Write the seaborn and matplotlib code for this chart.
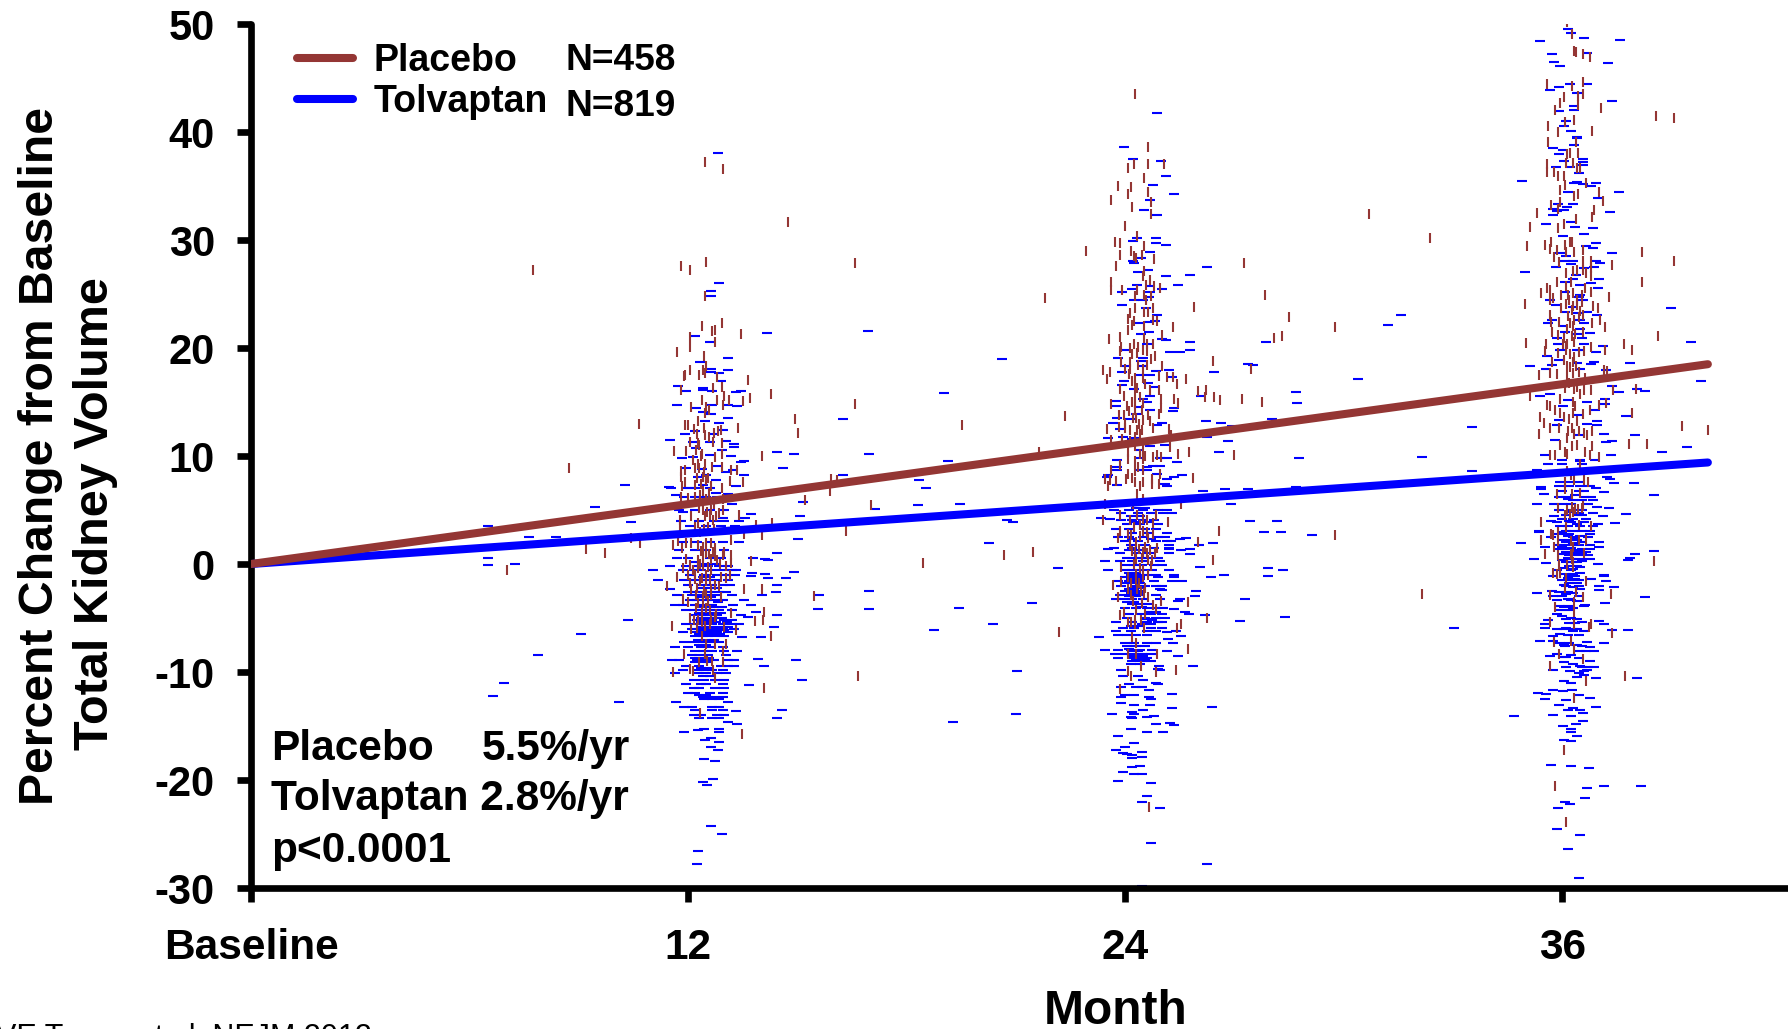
import pandas as pd
import matplotlib
matplotlib.use("Agg")
import matplotlib.pyplot as plt
import seaborn as sns

# Fitted slopes, month vs percent change
line_months = [0, 40]
placebo_line = [0, 18.5]
tolvaptan_line = [0, 9.4]

x_ticks = [0, 12, 24, 36]
x_labels = ["Baseline", "12", "24", "36"]
y_ticks = [-30, -20, -10, 0, 10, 20, 30, 40, 50]

# Individual patients, (month, percent change)
placebo_12 = [
    (12.46, 37.2), (12.95, 36.6), (14.74, 31.7), (7.73, 27.2), (11.8, 27.6), (12.05, 27.2), (12.49, 28.0), (16.58, 27.9),
    (12.46, 24.8), (12.38, 22.0), (12.92, 22.3), (12.65, 21.6), (12.73, 21.7), (13.45, 21.3), (12.05, 21.0), (12.05, 20.1),
    (12.73, 20.6), (11.69, 19.6), (12.43, 19.3), (12.49, 18.3), (12.4, 18.0), (12.05, 18.0), (11.91, 17.5), (11.88, 17.4),
    (12.29, 17.5), (12.46, 17.7), (12.79, 17.3), (13.64, 17.0), (12.92, 16.4), (12.68, 16.3), (11.8, 16.1), (12.98, 15.6),
    (12.38, 15.2), (12.79, 15.2), (13.12, 15.2), (14.27, 15.7), (13.69, 15.4), (13.5, 15.1), (12.95, 14.7), (12.07, 14.5),
    (12.49, 14.5), (12.58, 14.3), (12.46, 14.0), (16.58, 14.8), (14.93, 13.4), (10.65, 13.0), (11.91, 12.9), (12.0, 12.9),
    (12.27, 13.2), (12.16, 12.5), (12.43, 12.6), (13.36, 12.6), (12.9, 12.4), (12.82, 12.3), (12.7, 12.1), (15.01, 12.1),
    (12.46, 11.9), (12.58, 11.8), (12.05, 11.3), (12.27, 11.2), (12.69, 11.3), (12.92, 11.2), (11.61, 10.5), (11.94, 10.5),
    (12.23, 10.6), (12.38, 10.2), (12.92, 10.2), (14.02, 10.0), (12.14, 9.6), (12.27, 9.3), (12.46, 9.3), (12.73, 9.9),
    (8.74, 8.9), (11.8, 8.6), (11.91, 8.7), (12.2, 8.9), (12.3, 8.9), (12.66, 9.0), (12.92, 9.0), (13.17, 8.7),
    (13.34, 8.7), (11.8, 8.1), (12.41, 8.1), (12.5, 7.8), (13.14, 7.7), (13.5, 7.6), (11.91, 7.6), (11.82, 7.2),
    (12.92, 7.0), (15.92, 7.9), (15.9, 6.8), (16.08, 7.8), (11.8, 6.2), (12.0, 6.1), (12.18, 6.2), (12.32, 6.4),
    (12.5, 6.0), (12.7, 5.6), (12.95, 6.0), (11.77, 4.1), (11.77, 3.5), (12.09, 4.4), (12.27, 3.8), (12.46, 4.4),
    (12.64, 5.0), (12.69, 4.1), (12.96, 5.0), (13.39, 4.5), (17.02, 5.5), (15.22, 5.9), (13.86, 3.6), (14.3, 3.8),
    (13.53, 2.8), (14.02, 2.7), (16.33, 3.1), (9.19, 1.4), (9.71, 1.0), (10.43, 2.4), (10.67, 1.9), (7.03, -0.6),
    (11.58, 1.8), (11.72, 2.1), (11.82, 1.5), (11.95, 1.9), (12.07, 1.9), (12.27, 1.8), (12.41, 1.6), (12.5, 1.9),
    (12.64, 1.9), (12.73, 1.5), (13.0, 1.1), (13.19, 2.2), (12.96, 0.8), (13.17, 0.8), (13.72, 0.3), (11.95, 0.5),
    (12.27, 0.4), (12.41, 0.7), (12.64, 0.5), (12.73, 0.7), (12.05, -0.1), (12.27, -0.4), (11.86, -0.4), (12.14, -0.6),
    (12.41, -0.2), (12.64, -0.6), (13.05, -0.2), (13.19, 0.1), (12.0, -1.0), (12.18, -1.0), (12.5, -1.0), (12.9, -1.2),
    (13.05, -1.3), (13.14, -1.0), (11.69, -1.2), (12.05, -1.8), (12.32, -1.6), (12.5, -1.6), (11.41, -2.0), (12.07, -2.3),
    (12.25, -2.2), (12.44, -2.5), (12.64, -2.3), (12.73, -1.9), (12.84, -2.0), (13.53, -2.3), (14.02, -2.3), (12.23, -2.9),
    (11.85, -3.2), (12.9, -3.1), (12.64, -2.9), (15.45, -3.0), (12.0, -3.5), (12.27, -3.6), (12.41, -3.6), (12.48, -4.1),
    (13.17, -4.5), (14.08, -4.4), (12.23, -4.1), (12.78, -4.6), (12.05, -5.0), (12.16, -5.2), (12.27, -5.2), (12.73, -4.9),
    (13.83, -5.3), (14.05, -5.2), (11.55, -5.7), (12.07, -6.0), (12.46, -5.7), (12.6, -5.6), (13.0, -5.8), (12.25, -5.9),
    (13.31, -6.1), (12.38, -6.7), (14.27, -6.7), (12.49, -7.4), (12.73, -7.4), (13.03, -7.4), (12.95, -8.1), (12.46, -8.3),
    (11.88, -8.3), (12.29, -9.1), (12.51, -9.0), (12.65, -9.0), (12.95, -9.1), (12.05, -9.7), (12.13, -9.9), (11.58, -10.0),
    (12.69, -9.8), (12.73, -10.6), (16.66, -10.4), (14.08, -11.5), (12.32, -13.8), (13.47, -15.7),
]

# Brown clump in the middle of the month 12 column
placebo_12_core = [
    (12.25, 12.0), (12.3, 11.0), (12.35, 10.0), (12.25, 8.0), (12.35, 7.4), (12.45, 8.5), (12.55, 8.0), (12.62, 7.2),
    (12.2, 7.3), (12.42, 6.8), (12.58, 6.6), (12.3, 5.2), (12.4, 5.0), (12.52, 4.8), (12.6, 4.5), (12.78, 4.4),
    (12.85, 4.7), (12.18, 3.4), (12.32, 3.0), (12.44, 3.2), (12.55, 3.4), (12.72, 3.2), (12.36, 1.2), (12.48, 1.0),
    (12.58, 0.9), (12.68, 1.1), (12.8, 0.4), (12.88, 0.0), (12.34, 0.0), (12.54, -0.3), (12.2, -1.4), (12.38, -1.3),
    (12.6, -1.4), (12.42, -3.0), (12.5, -2.8), (12.56, -3.4), (12.38, -4.4), (12.6, -4.3), (12.62, -5.2), (12.38, -5.4),
]

tolvaptan_12 = [
    (12.81, 38.1), (12.84, 26.0), (12.62, 25.3), (12.62, 24.8), (12.19, 21.1), (14.16, 21.4), (16.93, 21.6), (12.59, 20.6),
    (13.09, 19.1), (12.32, 18.7), (12.62, 18.1), (13.09, 18.0), (12.62, 17.8), (12.84, 17.7), (12.9, 16.9), (11.72, 16.5),
    (11.95, 16.0), (12.4, 16.3), (12.42, 16.1), (12.65, 16.0), (13.31, 15.9), (13.44, 16.0), (11.69, 14.7), (12.23, 14.4),
    (12.65, 14.7), (13.1, 14.7), (13.35, 14.6), (12.64, 13.9), (12.4, 14.1), (13.09, 13.5), (12.46, 13.2), (12.84, 13.1),
    (16.25, 13.4), (12.18, 12.3), (12.96, 12.4), (11.92, 12.0), (12.68, 12.0), (11.5, 11.5), (12.14, 11.3), (12.6, 11.3),
    (13.05, 11.4), (13.25, 11.1), (12.92, 10.6), (13.25, 10.8), (12.23, 10.7), (14.43, 10.4), (14.9, 10.2), (16.96, 10.2),
    (12.14, 9.9), (11.83, 9.8), (13.19, 10.0), (12.6, 10.1), (13.53, 9.5), (13.46, 9.4), (14.6, 8.9), (11.95, 8.9),
    (12.37, 8.8), (12.82, 9.1), (13.05, 8.5), (13.24, 8.7), (13.53, 8.2), (12.5, 8.2), (12.27, 8.1), (12.78, 7.8),
    (16.25, 8.2), (10.26, 7.3), (11.48, 7.1), (11.52, 7.0), (13.31, 7.2), (12.05, 7.0), (12.41, 7.3), (13.1, 6.5),
    (11.68, 6.4), (12.78, 6.6), (9.44, 5.3), (15.15, 5.7), (13.2, 5.6), (15.07, 4.4), (13.74, 4.6), (17.14, 5.1),
    (11.85, 4.8), (13.56, 4.3), (12.95, 4.3), (6.5, 3.5), (7.63, 2.5), (8.37, 2.5), (10.43, 3.9), (15.01, 2.3),
    (6.5, 0.6), (6.5, -0.1), (7.24, 0.0), (11.03, -0.6), (11.17, -1.5), (11.5, -0.2), (11.5, -2.3), (14.43, 1.0),
    (13.78, 0.6), (14.1, 0.5), (14.19, 0.4), (13.31, -0.6), (13.76, -0.8), (13.74, -1.1), (14.11, -0.9), (14.2, -1.3),
    (14.7, -1.3), (14.9, -0.7), (14.43, -1.9), (14.41, -2.6), (14.02, -2.9), (13.53, -3.3), (13.74, -3.8), (13.86, -4.4),
    (13.46, -4.7), (13.65, -4.9), (14.43, -4.7), (14.35, -5.8), (13.99, -6.8), (13.49, -6.8), (13.92, -8.8), (14.96, -8.9),
    (14.08, -9.4), (15.12, -10.7), (13.67, -11.2), (15.59, -2.9), (15.56, -4.2), (16.96, -2.5), (16.96, -4.2), (10.34, -5.2),
    (9.05, -6.5), (7.87, -8.4), (6.94, -11.0), (6.64, -12.2), (10.1, -12.8), (11.66, -12.8), (14.57, -13.5), (14.43, -14.3),
    (13.31, -13.6), (13.1, -12.8), (13.35, -14.8), (11.88, -15.6), (12.43, -15.3), (12.27, -15.4), (12.84, -15.3), (12.84, -15.6),
    (12.46, -16.3), (12.64, -16.1), (12.84, -16.5), (12.62, -16.9), (12.81, -17.2), (12.43, -18.1), (12.73, -18.2), (12.68, -19.9),
    (12.4, -20.2), (12.51, -20.5), (12.62, -24.3), (12.92, -25.0), (12.27, -26.6), (12.24, -27.8),
    (12.0, 7.0), (12.3, 7.0), (12.6, 7.0), (11.9, 6.2), (12.2, 6.2), (12.5, 6.2), (12.8, 6.2), (11.75, 5.0),
    (12.2, 5.0), (12.6, 5.0), (13.0, 5.0), (11.8, 4.0), (12.3, 4.0), (12.7, 4.0), (13.0, 4.0), (13.4, 4.0),
    (12.05, 3.5), (12.5, 3.5), (12.9, 3.5), (13.3, 3.5), (11.85, 2.0), (12.25, 2.0), (12.6, 2.0), (12.95, 2.0),
    (13.4, 2.0), (11.75, 1.3), (12.2, 1.3), (12.5, 1.3), (13.0, 1.3), (11.7, 0.6), (12.0, 0.6), (12.6, 0.6),
    (12.9, 0.6), (11.95, -0.2), (12.3, -0.2), (12.55, -0.2), (12.85, -0.2), (13.1, -0.2), (11.85, -0.6), (12.15, -0.6),
    (12.35, -0.6), (12.7, -0.6), (13.0, -0.6), (13.2, -0.6), (12.05, -1.0), (12.45, -1.0), (12.8, -1.0), (13.05, -1.0),
    (13.3, -1.0), (11.9, -1.5), (12.2, -1.5), (12.5, -1.5), (12.75, -1.5), (13.1, -1.5), (12.0, -1.9), (12.35, -1.9),
    (12.65, -1.9), (12.95, -1.9), (13.15, -1.9), (12.0, -2.6), (12.2, -2.6), (12.4, -2.6), (12.6, -2.6), (12.85, -2.6),
    (13.05, -2.6), (11.7, -2.9), (12.1, -2.9), (12.3, -2.9), (12.55, -2.9), (12.8, -2.9), (13.2, -2.9), (12.05, -3.3),
    (12.25, -3.3), (12.5, -3.3), (12.75, -3.3), (12.95, -3.3), (11.65, -3.8), (11.85, -3.8), (12.2, -3.8), (12.45, -3.8),
    (12.65, -3.8), (13.24, -3.8), (11.95, -4.3), (12.15, -4.3), (12.4, -4.3), (12.6, -4.3), (12.85, -4.3), (13.2, -4.3),
    (12.2, -4.7), (12.4, -4.7), (12.6, -4.7), (12.8, -4.7), (12.25, -5.2), (12.45, -5.2), (12.65, -5.2), (13.0, -5.2),
    (13.2, -5.2), (11.95, -5.6), (12.2, -5.6), (12.4, -5.6), (12.65, -5.6), (12.95, -5.6), (13.2, -5.6), (13.4, -5.6),
    (12.1, -6.0), (12.3, -6.0), (12.5, -6.0), (12.7, -6.0), (12.95, -6.0), (13.25, -6.0), (11.85, -6.3), (12.2, -6.3),
    (12.4, -6.3), (12.6, -6.3), (12.8, -6.3), (13.1, -6.3), (12.2, -6.7), (12.4, -6.7), (12.55, -6.7), (12.75, -6.7),
    (13.0, -6.7), (11.9, -7.2), (12.15, -7.2), (12.4, -7.2), (12.6, -7.2), (12.85, -7.2), (11.65, -7.7), (12.0, -7.7),
    (12.35, -7.7), (12.6, -7.7), (12.95, -7.7), (12.2, -8.1), (12.4, -8.1), (12.65, -8.1), (13.0, -8.1), (13.35, -8.1),
    (12.1, -8.4), (12.3, -8.4), (12.55, -8.4), (13.05, -8.4), (11.55, -8.9), (11.75, -8.9), (12.25, -8.9), (12.45, -8.9),
    (12.7, -8.9), (13.1, -8.9), (13.25, -8.9), (11.95, -9.4), (12.3, -9.4), (12.9, -9.4), (13.1, -9.4), (13.25, -9.4),
    (11.85, -9.8), (12.25, -9.8), (12.45, -9.8), (12.65, -9.8), (12.95, -9.8), (11.65, -10.1), (12.3, -10.1), (12.5, -10.1),
    (12.8, -10.1), (13.05, -10.1), (12.15, -10.7), (12.45, -10.7), (12.75, -10.7), (13.0, -10.7), (11.95, -11.1), (12.35, -11.1),
    (12.5, -11.1), (12.95, -11.1), (12.15, -11.5), (12.3, -11.5), (12.75, -11.5), (13.0, -11.5), (12.0, -11.9), (12.2, -11.9),
    (12.6, -11.9), (12.95, -11.9), (12.4, -12.3), (12.55, -12.3), (12.75, -12.3), (12.95, -12.3), (12.45, -12.5), (12.65, -12.5),
    (12.85, -12.5), (11.9, -13.2), (12.1, -13.2), (12.65, -13.2), (12.85, -13.2), (12.2, -13.5), (12.65, -13.5), (12.95, -13.5),
    (12.15, -14.0), (12.35, -14.0), (12.8, -14.0), (13.0, -14.0), (12.3, -14.3), (12.65, -14.3), (12.85, -14.3), (13.1, -14.6),
]

# Solid blue part of the month 12 column
tolvaptan_12_core = [
    (12.35, -3.1), (12.62, -3.1), (12.82, -3.5), (12.32, -4.0), (12.52, -4.0), (12.72, -4.0), (12.92, -4.0), (12.3, -4.5),
    (12.5, -4.5), (12.7, -4.5), (12.9, -4.5), (12.35, -5.0), (12.55, -5.0), (12.75, -5.0), (12.92, -5.0), (12.35, -5.4),
    (12.55, -5.4), (12.78, -5.4), (13.08, -5.4), (12.38, -5.8), (12.58, -5.8), (12.82, -5.8), (13.1, -5.8), (12.4, -6.15),
    (12.6, -6.15), (12.8, -6.15), (12.98, -6.15), (12.3, -6.5), (12.5, -6.5), (12.68, -6.5), (12.88, -6.5), (12.28, -7.0),
    (12.5, -7.0), (12.7, -7.0), (12.3, -7.5), (12.5, -7.5), (12.2, -8.7), (12.4, -8.7), (12.58, -8.7), (12.2, -9.1),
    (12.4, -9.1), (12.55, -9.1), (12.35, -9.6), (12.55, -9.6), (12.4, -10.4), (12.6, -10.4), (12.3, -12.1), (12.5, -12.1),
    (12.5, 0.0), (12.7, 0.0), (12.2, 0.2), (12.4, -1.2), (12.6, -1.2), (12.4, -2.2), (12.6, -2.2), (12.8, -2.2),
]

placebo_24 = [
    (24.27, 43.5), (24.63, 38.6), (24.25, 37.0), (24.63, 37.0), (25.07, 37.0), (24.08, 36.7), (24.52, 35.7), (23.81, 35.0),
    (24.16, 34.9), (24.08, 34.3), (24.63, 34.4), (23.62, 33.7), (24.71, 33.5), (24.19, 33.1), (24.71, 32.4), (24.0, 31.3),
    (24.33, 30.4), (23.73, 29.8), (23.86, 29.7), (24.52, 29.4), (22.93, 29.0), (24.16, 29.0), (23.86, 28.6), (24.25, 28.5),
    (24.3, 28.3), (24.47, 28.6), (24.8, 28.2), (27.27, 27.9), (23.75, 27.6), (24.52, 27.1), (24.49, 26.7), (23.62, 26.1),
    (23.62, 25.4), (24.69, 26.3), (23.92, 25.4), (24.57, 25.8), (24.8, 25.7), (24.96, 25.6), (24.33, 25.4), (24.52, 24.9),
    (21.8, 24.6), (24.71, 24.8), (24.27, 24.8), (27.83, 24.9), (24.57, 24.4), (25.89, 23.8), (24.27, 23.7), (24.77, 23.7),
    (24.52, 23.3), (24.63, 23.3), (24.14, 23.2), (24.09, 22.7), (24.23, 22.5), (28.5, 22.9), (24.77, 22.6), (24.88, 22.5),
    (24.19, 22.1), (24.52, 22.0), (25.32, 21.9), (24.08, 21.7), (23.86, 21.0), (23.56, 20.8), (25.02, 21.2), (28.31, 21.1),
    (28.09, 20.9), (24.52, 20.9), (24.25, 20.4), (24.77, 20.4), (23.88, 20.1), (24.14, 20.0), (24.34, 20.1), (24.61, 20.4),
    (24.49, 19.8), (23.86, 19.7), (24.18, 19.4), (24.32, 19.5), (24.59, 19.7), (24.82, 19.3), (24.71, 19.0), (24.14, 18.7),
    (26.42, 18.8), (23.89, 18.7), (25.02, 18.3), (24.0, 18.1), (24.14, 18.1), (24.34, 18.4), (24.5, 18.1), (24.6, 18.4),
    (23.4, 18.0), (23.59, 17.8), (27.46, 18.1), (23.51, 17.1), (24.28, 17.2), (24.5, 17.2), (24.93, 17.4), (25.15, 17.3),
    (25.32, 17.3), (25.68, 17.1), (25.43, 16.7), (24.28, 16.6), (24.55, 16.7), (23.86, 16.2), (24.93, 16.1), (24.69, 16.1),
    (23.97, 15.6), (24.28, 15.8), (26.0, 16.0), (26.23, 16.1), (26.2, 15.5), (26.44, 15.5), (26.61, 15.2), (27.21, 15.3),
    (27.76, 15.0), (25.35, 15.3), (24.99, 15.3), (25.46, 14.9), (23.62, 14.8), (24.28, 14.9), (24.5, 14.9), (24.06, 14.6),
    (24.99, 14.4), (24.28, 14.3), (24.46, 14.3), (22.35, 13.7), (19.52, 12.9), (24.93, 13.9), (23.82, 13.8), (23.97, 13.8),
    (24.64, 13.8), (24.0, 13.0), (24.29, 13.5), (24.5, 13.3), (24.69, 13.2), (23.82, 12.7), (23.51, 12.5), (24.0, 12.6),
    (24.14, 12.4), (24.32, 12.4), (24.47, 12.4), (24.77, 12.6), (25.21, 12.5), (25.25, 11.9), (23.62, 11.5), (23.91, 11.6),
    (21.64, 10.4), (25.24, 10.8), (25.46, 10.2), (25.76, 10.4), (26.99, 10.1), (24.5, 10.6), (24.09, 10.4), (24.27, 10.9),
    (24.09, 9.7), (24.27, 9.5), (24.5, 9.7), (24.77, 9.9), (24.87, 10.1), (24.98, 9.9), (23.86, 9.2), (23.62, 8.7),
    (24.09, 8.3), (24.27, 8.6), (24.5, 8.7), (24.73, 7.9), (24.96, 8.3), (25.87, 8.0), (23.45, 7.9), (23.59, 7.8),
    (23.75, 7.7), (23.54, 7.2), (24.03, 7.9), (24.27, 7.6), (24.5, 7.6), (24.94, 7.4), (24.73, 7.4), (23.45, 5.6),
    (23.86, 4.5), (24.14, 4.1), (24.32, 4.5), (24.5, 4.2), (24.59, 4.1), (24.77, 3.8), (24.86, 4.5), (25.54, 5.6),
    (23.4, 4.1), (25.19, 3.9), (26.58, 3.1), (23.86, 3.1), (24.09, 2.8), (24.16, 2.7), (24.5, 3.1), (24.59, 3.0),
    (24.77, 2.8), (23.81, 2.4), (26.01, 2.0), (24.14, 1.8), (24.3, 2.0), (24.55, 1.6), (24.5, 1.1), (24.27, 1.1),
    (24.69, 1.3), (24.82, 1.0), (24.87, 1.5), (18.45, 0.1), (20.68, 0.8), (21.48, 1.1), (26.42, 0.4), (24.3, 0.5),
    (24.73, 0.4), (23.89, -0.3), (24.5, -0.6), (24.7, -0.2), (24.08, -1.2), (24.3, -0.9), (24.5, -1.2), (23.66, -1.9),
    (23.89, -1.7), (24.3, -1.5), (24.09, -2.3), (24.32, -2.3), (24.44, -2.5), (24.52, -2.7), (23.81, -3.1), (24.16, -2.9),
    (24.47, -3.6), (24.63, -3.1), (24.99, -3.4), (25.73, -3.5), (24.3, -4.3), (23.97, -4.4), (24.77, -3.8), (24.85, -4.2),
    (23.86, -4.7), (26.25, -5.0), (25.54, -5.6), (25.43, -5.9), (24.27, -5.2), (24.08, -5.4), (24.16, -5.4), (24.44, -5.2),
    (24.27, -5.6), (24.52, -5.9), (22.19, -6.3), (24.19, -6.8), (24.3, -7.3), (25.73, -7.9), (24.88, -8.3), (24.08, -8.3),
    (24.3, -8.3), (24.44, -9.4), (24.08, -9.9), (24.16, -10.4), (24.85, -10.0), (25.4, -9.8), (23.86, -11.6), (24.66, -22.5),
]

# Brown clump in the middle of the month 24 column
placebo_24_core = [
    (24.12, 17.6), (24.2, 16.9), (24.33, 16.3), (24.4, 15.5), (24.2, 15.0), (24.12, 14.2), (24.22, 13.5), (24.38, 13.0),
    (24.42, 12.0), (24.28, 11.8), (24.14, 11.4), (24.4, 10.2), (24.55, 10.0), (24.35, 9.0), (24.2, 8.0), (24.4, 7.2),
    (24.33, 6.5), (24.5, 6.0), (24.22, 5.6), (24.4, 3.6), (24.25, 3.4), (24.42, 2.6), (24.62, 2.4), (24.2, 1.2),
    (24.38, 1.4), (24.6, 1.0), (24.46, 0.6), (24.62, 0.4), (24.25, 0.0), (24.4, -0.4), (24.62, -1.0), (24.15, -1.8),
    (24.38, -1.8), (24.55, -2.2), (24.22, -3.4), (24.55, -4.6),
]

tolvaptan_24 = [
    (24.88, 41.8), (23.97, 38.6), (24.22, 37.5), (24.99, 37.3), (25.13, 35.9), (24.77, 35.1), (25.35, 34.3), (24.69, 33.7),
    (24.52, 32.8), (24.88, 32.3), (24.33, 30.2), (24.85, 30.2), (24.22, 29.9), (24.85, 29.7), (25.13, 29.5), (24.69, 28.9),
    (24.44, 28.3), (24.22, 28.1), (24.25, 27.9), (26.25, 27.5), (24.63, 27.2), (24.36, 27.0), (25.78, 26.8), (25.13, 26.7),
    (25.46, 25.8), (24.33, 25.8), (24.69, 25.7), (24.19, 25.5), (25.02, 25.5), (23.92, 25.2), (24.69, 25.2), (24.25, 24.4),
    (24.5, 24.4), (24.65, 24.7), (23.92, 24.0), (20.62, 19.0), (24.58, 23.7), (24.87, 23.1), (24.82, 22.5), (24.41, 22.3),
    (24.66, 22.4), (24.44, 21.3), (24.66, 21.5), (25.02, 20.8), (25.13, 20.7), (25.78, 20.6), (27.87, 20.6), (24.59, 20.4),
    (24.0, 19.8), (25.78, 19.8), (25.24, 19.6), (25.51, 19.6), (23.81, 19.1), (24.5, 19.1), (24.44, 18.8), (24.0, 18.3),
    (24.5, 18.3), (27.38, 18.5), (27.51, 18.4), (26.44, 17.8), (23.92, 17.8), (24.85, 17.9), (25.21, 18.0), (25.29, 17.3),
    (24.41, 17.5), (23.97, 16.9), (24.69, 17.5), (19.03, 15.8), (23.92, 16.6), (24.64, 16.8), (24.25, 16.2), (24.78, 16.4),
    (26.09, 15.6), (24.69, 15.6), (28.7, 15.9), (28.72, 14.9), (23.75, 15.1), (24.5, 15.3), (24.61, 15.0), (23.75, 14.6),
    (24.37, 14.5), (25.35, 14.4), (25.32, 14.2), (24.69, 14.3), (24.3, 13.9), (23.78, 13.5), (24.14, 13.4), (26.22, 13.2),
    (26.64, 13.1), (28.04, 13.4), (25.02, 13.1), (23.67, 13.1), (24.87, 12.9), (23.86, 12.5), (26.94, 12.8), (23.53, 11.7),
    (26.24, 11.8), (26.83, 11.4), (23.93, 11.8), (24.23, 11.7), (24.19, 11.6), (25.1, 11.0), (24.69, 10.9), (24.37, 10.6),
    (26.58, 10.4), (19.14, 9.5), (18.34, 7.8), (18.53, 7.0), (28.78, 9.8), (25.42, 9.4), (25.14, 9.8), (24.96, 9.8),
    (24.41, 9.8), (23.79, 9.6), (23.78, 9.0), (23.78, 8.7), (24.59, 9.0), (24.77, 9.1), (24.96, 9.1), (24.41, 8.7),
    (24.59, 8.7), (25.56, 8.2), (25.33, 8.1), (24.87, 8.3), (23.5, 8.1), (23.53, 8.2), (25.14, 7.9), (23.79, 7.3),
    (25.14, 7.2), (25.1, 7.4), (26.75, 6.9), (27.38, 6.9), (28.7, 7.1), (18.31, 5.5), (19.47, 5.6), (26.91, 5.6),
    (26.14, 6.8), (27.43, 4.0), (28.17, 4.0), (27.82, 3.0), (28.27, 3.0), (29.13, 2.7), (26.42, 1.9), (26.03, 1.8),
    (25.67, 2.4), (25.51, 2.3), (25.78, 1.4), (25.54, 1.3), (25.78, 0.9), (20.75, 4.1), (20.91, 3.9), (20.27, 1.9),
    (22.16, -0.4), (19.44, -4.1), (21.45, -3.6), (20.38, -5.6), (18.76, -6.1), (21.03, -9.9), (21.01, -13.9), (19.28, -14.6),
    (23.53, 1.4), (23.45, 0.3), (23.53, -0.6), (23.34, 4.3), (23.59, 4.2), (23.29, -6.8), (23.45, -8.0), (23.73, -8.3),
    (26.06, -0.3), (26.36, -1.2), (26.72, -1.0), (27.93, -0.4), (28.34, -0.6), (27.93, -1.1), (25.95, -2.5), (25.92, -3.0),
    (27.3, -3.2), (25.51, -3.2), (25.46, -3.4), (25.35, -4.2), (25.65, -4.4), (25.76, -4.6), (26.2, -4.7), (28.39, -4.9),
    (27.16, -5.3), (25.4, -6.2), (25.54, -6.7), (25.15, -6.3), (25.18, -6.9), (25.32, -7.3), (25.15, -8.1), (25.46, -8.5),
    (25.87, -9.4), (24.93, -9.4), (25.29, -12.0), (25.29, -13.3), (26.39, -13.2), (25.24, -14.7), (25.35, -14.9), (23.89, -9.8),
    (23.95, -10.4), (24.35, -10.4), (24.5, -10.7), (24.1, -11.1), (24.9, -11.1), (24.85, -11.0), (23.9, -11.4), (24.3, -11.4),
    (24.45, -11.4), (24.65, -11.7), (24.0, -12.1), (24.25, -12.1), (23.9, -12.3), (24.65, -12.3), (24.7, -12.5), (23.9, -12.9),
    (24.25, -13.1), (24.68, -13.1), (24.5, -13.5), (24.2, -13.7), (23.65, -13.9), (24.25, -13.9), (24.8, -14.1), (24.15, -14.2),
    (24.2, -14.3), (24.6, -14.2), (24.85, -14.8), (24.15, -15.3), (24.6, -15.6), (25.05, -15.6), (23.8, -15.9), (24.25, -16.6),
    (24.0, -16.9), (23.75, -17.2), (24.45, -17.4), (23.95, -17.5), (24.05, -17.6), (24.2, -17.7), (24.45, -17.9), (24.2, -18.0),
    (24.4, -18.7), (24.2, -18.8), (23.95, -19.3), (24.45, -19.4), (24.25, -19.4), (23.8, -20.1), (24.7, -20.3), (24.6, -21.5),
    (24.45, -22.0), (24.95, -22.6), (24.7, -25.8), (26.25, -27.8), (24.45, -29.8),
    (23.7, 5.0), (24.1, 5.0), (24.5, 5.0), (24.9, 5.0), (25.15, 5.0), (23.9, 4.7), (24.35, 4.7), (24.7, 4.7),
    (25.05, 4.7), (25.3, 4.7), (23.9, 4.1), (24.2, 4.1), (24.5, 4.1), (24.8, 4.1), (24.05, 3.7), (24.4, 3.7),
    (24.9, 3.7), (23.75, 3.2), (24.1, 3.2), (24.55, 3.2), (24.85, 3.2), (24.2, 2.9), (24.6, 2.9), (25.15, 2.9),
    (23.8, 2.5), (24.1, 2.5), (24.5, 2.5), (24.9, 2.5), (25.1, 2.5), (24.0, 2.1), (24.35, 2.1), (24.85, 2.1),
    (25.15, 2.1), (25.25, 2.1), (24.15, 1.8), (24.55, 1.8), (25.2, 1.8), (23.7, 1.5), (24.2, 1.5), (24.8, 1.5),
    (25.2, 1.5), (25.21, 1.4), (23.85, 1.0), (24.3, 1.0), (24.65, 1.0), (25.2, 1.0), (24.05, 0.6), (24.3, 0.6),
    (24.6, 0.6), (24.9, 0.6), (23.85, 0.3), (24.2, 0.3), (24.5, 0.3), (24.95, 0.3), (24.0, -0.1), (24.25, -0.1),
    (24.45, -0.1), (24.8, -0.1), (25.0, -0.1), (24.0, -0.6), (24.2, -0.6), (24.45, -0.6), (24.75, -0.6), (25.2, -0.6),
    (24.15, -1.0), (24.35, -1.0), (24.6, -1.0), (24.85, -1.0), (25.35, -1.0), (24.0, -1.2), (24.25, -1.2), (24.4, -1.2),
    (24.9, -1.2), (25.35, -1.2), (23.8, -1.6), (24.1, -1.6), (24.35, -1.6), (24.8, -1.6), (25.3, -1.6), (25.55, -1.6),
    (23.9, -2.0), (24.3, -2.0), (24.55, -2.0), (24.85, -2.0), (25.0, -2.0), (24.1, -2.3), (24.25, -2.3), (24.95, -2.3),
    (25.0, -2.4), (23.85, -2.9), (24.1, -2.9), (24.35, -2.9), (24.85, -2.9), (23.75, -3.2), (24.0, -3.2), (24.2, -3.2),
    (24.5, -3.2), (24.95, -3.2), (24.2, -3.7), (24.35, -3.7), (24.6, -3.7), (24.0, -4.1), (24.3, -4.1), (24.6, -4.1),
    (24.85, -4.1), (25.05, -4.1), (24.1, -4.6), (24.45, -4.6), (24.7, -4.6), (25.0, -4.6), (24.05, -5.0), (24.55, -5.0),
    (24.85, -5.0), (25.1, -5.0), (23.75, -5.4), (24.2, -5.4), (24.6, -5.4), (24.9, -5.4), (25.0, -5.4), (23.95, -5.9),
    (24.25, -5.9), (24.7, -5.9), (25.0, -5.9), (23.75, -6.2), (24.15, -6.2), (24.6, -6.2), (24.85, -6.2), (23.8, -6.6),
    (24.05, -6.6), (24.3, -6.6), (24.6, -6.6), (24.0, -7.3), (24.25, -7.3), (24.6, -7.3), (24.85, -7.3), (24.05, -7.6),
    (24.3, -7.6), (24.55, -7.6), (23.8, -8.0), (24.15, -8.0), (24.4, -8.0), (24.75, -8.0), (24.0, -8.3), (24.25, -8.3),
    (24.45, -8.3), (24.7, -8.3), (23.8, -8.7), (24.2, -8.7), (24.45, -8.7), (24.6, -8.7), (24.2, -9.0), (24.45, -9.0),
    (24.7, -9.0), (24.15, -9.3), (24.4, -9.3), (24.9, -9.7), (24.95, -9.8),
]

# Solid blue part of the month 24 column
tolvaptan_24_core = [
    (24.1, -0.8), (24.3, -0.8), (24.15, -1.4), (24.4, -1.4), (24.0, -1.8), (24.2, -1.8), (24.4, -1.8), (24.2, -2.2),
    (24.4, -2.2), (24.0, -2.5), (24.2, -2.5), (24.4, -2.5), (24.15, -2.7), (24.35, -2.7), (24.1, -3.0), (24.3, -3.0),
    (24.05, -3.5), (24.25, -3.5), (24.45, -4.0), (24.65, -4.4), (24.85, -4.4), (24.6, -5.1), (24.75, -5.2), (24.45, -5.6),
    (24.7, -5.6), (24.15, -5.7), (24.35, -5.7), (24.1, -7.9), (24.25, -8.1), (24.35, -8.1), (24.2, -8.5), (24.35, -8.5),
    (24.5, -8.5), (24.3, -8.8), (24.55, -8.8), (24.1, 1.3), (24.3, 1.3), (24.5, 1.3), (24.2, 2.3), (24.7, 2.3),
    (24.25, 3.9), (24.6, 3.9), (24.15, 4.4), (24.4, 4.4), (24.55, 5.2), (24.3, 5.2),
]

placebo_36 = [
    (36.14, 50.2), (36.27, 49.1), (36.33, 47.5), (36.38, 47.4), (36.58, 47.2), (36.77, 46.9), (35.59, 44.4), (36.58, 44.6),
    (36.27, 44.3), (36.58, 43.5), (36.05, 43.2), (36.44, 43.3), (35.95, 42.7), (36.44, 42.5), (35.81, 42.0), (37.07, 42.2),
    (38.58, 41.5), (39.08, 41.3), (36.33, 41.1), (36.08, 40.9), (35.62, 40.6), (36.82, 40.1), (35.89, 40.0), (35.62, 39.1),
    (36.38, 39.1), (36.44, 38.1), (36.22, 38.1), (36.14, 38.0), (36.11, 37.1), (36.3, 37.1), (35.59, 37.0), (35.59, 36.3),
    (35.78, 36.3), (36.41, 36.7), (36.49, 36.7), (35.89, 35.9), (36.05, 35.9), (36.08, 35.1), (36.66, 35.3), (35.95, 34.6),
    (37.02, 34.4), (36.33, 34.1), (36.44, 34.3), (37.13, 33.6), (35.7, 33.2), (35.95, 33.5), (35.89, 32.9), (36.88, 32.8),
    (35.31, 32.5), (30.7, 32.4), (36.82, 32.1), (36.38, 31.9), (36.05, 31.5), (35.12, 31.2), (35.89, 31.1), (32.38, 30.2),
    (36.22, 29.8), (36.27, 29.8), (35.7, 29.8), (35.67, 29.2), (35.53, 29.5), (36.08, 29.5), (35.04, 29.4), (35.86, 29.1),
    (36.58, 29.1), (36.11, 28.9), (36.33, 28.9), (38.2, 28.9), (35.78, 28.4), (36.58, 28.1), (36.8, 28.1), (39.08, 28.1),
    (35.92, 28.0), (37.37, 27.7), (36.58, 27.2), (36.8, 27.4), (36.42, 27.2), (36.3, 27.1), (36.66, 26.9), (36.11, 26.9),
    (36.8, 26.7), (35.87, 26.1), (38.2, 26.1), (35.67, 25.4), (35.59, 25.6), (36.11, 25.7), (36.25, 26.1), (36.63, 25.6),
    (36.8, 25.2), (35.42, 25.1), (35.97, 24.9), (36.3, 25.1), (36.17, 24.9), (36.54, 24.9), (37.29, 24.7), (35.74, 24.6),
    (34.98, 24.1), (35.67, 24.4), (36.11, 24.1), (36.41, 24.0), (36.54, 24.3), (36.85, 23.9), (36.99, 23.7), (35.97, 23.7),
    (36.27, 23.5), (36.49, 23.4), (35.67, 23.1), (36.58, 23.1), (35.7, 22.4), (35.92, 22.4), (36.22, 22.3), (37.04, 22.6),
    (36.81, 22.3), (37.18, 21.9), (35.73, 21.5), (36.13, 21.8), (36.31, 22.0), (36.36, 21.3), (36.58, 21.5), (38.64, 21.1),
    (35.89, 21.2), (36.04, 20.9), (36.27, 21.1), (35.01, 20.5), (35.56, 20.4), (37.7, 20.4), (36.33, 20.6), (36.03, 20.4),
    (36.14, 20.4), (36.8, 20.1), (37.92, 19.8), (37.18, 19.8), (35.53, 19.7), (35.89, 19.5), (36.1, 19.8), (36.59, 19.7),
    (29.77, 21.9), (35.73, 18.7), (36.31, 18.7), (36.13, 18.3), (36.38, 18.3), (35.37, 17.5), (35.67, 17.7), (35.87, 17.6),
    (37.15, 18.0), (37.24, 17.9), (36.13, 17.4), (36.31, 17.7), (36.63, 17.2), (36.08, 16.3), (36.4, 16.4), (36.59, 16.1),
    (36.8, 16.1), (37.4, 16.1), (38.03, 16.2), (35.12, 15.6), (35.59, 14.7), (35.67, 14.6), (35.95, 15.3), (35.81, 14.3),
    (35.95, 14.0), (36.31, 15.0), (36.36, 14.6), (36.77, 14.3), (37.02, 14.7), (37.21, 14.9), (37.92, 14.0), (35.4, 13.6),
    (35.51, 13.1), (36.05, 13.6), (36.31, 14.0), (36.58, 13.9), (35.67, 12.6), (35.9, 12.6), (36.17, 12.3), (36.27, 12.6),
    (36.45, 12.3), (36.59, 12.1), (36.68, 11.9), (36.82, 12.3), (35.37, 12.0), (39.3, 12.8), (40.01, 12.4), (37.84, 11.1),
    (38.33, 11.1), (35.95, 11.0), (36.27, 10.9), (36.4, 11.0), (36.81, 10.9), (36.08, 10.4), (35.67, 10.1), (35.79, 10.1),
    (36.13, 10.2), (36.63, 10.4), (37.02, 9.9), (36.75, 10.1), (29.77, 2.7), (36.08, 7.6), (36.33, 7.8), (36.59, 7.8),
    (36.72, 7.6), (36.08, 6.9), (35.86, 6.5), (36.27, 6.5), (36.49, 6.6), (35.89, 5.2), (36.13, 5.0), (36.27, 5.3),
    (36.36, 5.1), (36.44, 5.1), (36.58, 5.4), (36.08, 4.5), (35.42, 3.9), (36.8, 3.5), (36.45, 3.6), (36.1, 3.4),
    (35.89, 3.0), (35.7, 2.8), (35.75, 2.7), (35.42, 2.2), (36.25, 2.1), (36.47, 2.2), (36.66, 2.2), (35.78, 1.6),
    (35.89, 2.1), (36.31, 1.6), (36.6, 1.0), (35.53, 0.9), (35.89, 0.8), (36.27, 0.7), (36.31, 0.2), (38.53, 0.3),
    (35.92, -0.1), (36.13, -0.1), (35.75, -0.8), (35.86, -0.9), (35.95, -0.8), (36.11, -1.3), (36.66, -1.6), (36.08, -2.2),
    (32.16, -2.8), (35.67, -2.9), (36.38, -2.6), (36.58, -3.1), (37.35, -2.8), (36.33, -3.5), (35.81, -4.0), (36.33, -4.4),
    (35.67, -5.4), (36.33, -5.6), (36.8, -5.6), (36.74, -5.8), (37.37, -6.4), (36.25, -7.1), (35.78, -7.2), (36.33, -7.9),
    (35.92, -8.3), (36.58, -8.8), (35.67, -9.4), (37.73, -10.4), (36.66, -10.8), (36.33, -12.4), (36.05, -17.2), (35.81, -20.6),
    (36.11, -23.9),
]

tolvaptan_36 = [
    (36.16, 49.5), (36.25, 49.2), (35.4, 48.4), (36.6, 48.7), (37.59, 48.5), (35.73, 47.2), (36.69, 47.3), (35.78, 46.5),
    (37.26, 46.4), (35.95, 46.1), (35.92, 44.2), (36.22, 44.4), (36.69, 44.4), (35.67, 43.9), (36.41, 43.6), (37.37, 42.9),
    (36.33, 42.4), (36.33, 42.0), (35.92, 41.9), (36.11, 41.0), (36.05, 40.6), (36.25, 40.1), (36.42, 39.5), (36.41, 39.4),
    (36.33, 38.8), (35.75, 38.5), (36.03, 38.3), (35.92, 38.0), (36.05, 37.3), (36.58, 37.5), (36.58, 37.2), (36.58, 36.9),
    (35.84, 36.8), (36.22, 36.8), (36.47, 36.2), (34.9, 35.5), (36.41, 35.4), (36.33, 35.3), (36.93, 35.3), (36.58, 35.2),
    (36.8, 35.0), (37.57, 34.4), (36.16, 34.4), (36.99, 33.9), (35.89, 33.3), (36.3, 33.3), (36.14, 33.1), (35.75, 32.9),
    (36.05, 32.8), (35.86, 32.7), (35.75, 32.3), (37.32, 32.6), (35.56, 31.5), (36.25, 31.7), (36.36, 31.2), (36.85, 31.1),
    (36.03, 30.4), (36.61, 30.6), (36.93, 29.7), (36.66, 29.4), (36.85, 29.3), (37.37, 28.8), (35.95, 28.8), (36.11, 28.5),
    (36.31, 28.1), (36.08, 28.1), (36.93, 28.1), (37.03, 27.9), (36.25, 27.8), (35.84, 27.5), (36.59, 27.4), (36.88, 27.5),
    (34.98, 27.0), (36.38, 26.8), (37.02, 26.4), (36.31, 26.4), (36.8, 26.0), (36.08, 26.1), (36.49, 25.8), (36.99, 25.6),
    (36.08, 25.2), (36.48, 24.9), (36.45, 24.7), (35.67, 24.4), (36.57, 24.4), (35.84, 24.0), (36.31, 23.8), (39.0, 23.7),
    (36.08, 23.3), (36.95, 23.1), (36.68, 23.3), (36.4, 23.2), (31.58, 23.1), (31.22, 22.1), (35.71, 22.6), (35.62, 22.3),
    (36.49, 22.6), (36.59, 22.3), (36.03, 22.0), (36.49, 21.8), (36.77, 21.4), (36.08, 21.5), (36.4, 21.3), (35.85, 20.9),
    (36.54, 20.9), (39.54, 20.6), (37.12, 20.2), (35.89, 20.4), (36.59, 20.4), (36.4, 19.8), (36.49, 19.8), (36.92, 19.6),
    (35.95, 19.8), (35.59, 19.3), (35.9, 18.9), (36.4, 18.6), (36.88, 18.7), (36.8, 18.5), (37.87, 18.6), (35.12, 18.3),
    (35.73, 18.4), (35.56, 18.1), (36.49, 18.1), (37.21, 18.0), (30.4, 17.1), (39.82, 16.9), (37.36, 16.5), (37.56, 15.9),
    (38.06, 16.2), (38.28, 16.0), (35.4, 15.6), (35.67, 15.7), (37.18, 15.3), (36.68, 15.0), (37.18, 14.8), (36.17, 15.2),
    (36.03, 14.6), (37.76, 13.7), (36.91, 14.3), (36.4, 13.8), (33.53, 12.7), (35.9, 13.3), (36.95, 13.2), (36.95, 12.9),
    (35.85, 12.9), (36.68, 13.0), (37.14, 12.0), (38.0, 11.9), (39.43, 10.8), (37.21, 11.3), (37.38, 11.4), (38.75, 10.4),
    (32.16, 9.9), (37.35, 10.1), (35.81, 11.5), (36.49, 11.9), (35.53, 10.1), (36.49, 9.5), (33.53, 8.6), (35.3, 8.7),
    (37.23, 8.1), (37.32, 7.9), (37.43, 7.5), (37.98, 7.5), (35.42, 7.1), (35.42, 6.9), (36.93, 7.0), (35.51, 6.5),
    (37.15, 6.7), (38.53, 6.4), (35.31, 5.6), (35.78, 5.6), (36.95, 5.3), (37.29, 5.2), (37.76, 4.6), (36.85, 4.7),
    (37.12, 4.4), (35.78, 4.4), (37.46, 3.8), (36.99, 3.7), (35.7, 4.0), (35.35, 3.1), (35.37, 3.0), (36.77, 3.1),
    (34.88, 1.9), (35.53, 1.6), (37.0, 2.0), (37.0, 1.6), (38.53, 1.2), (38.0, 0.9), (37.87, 0.6), (37.81, 0.4),
    (35.23, 0.5), (35.56, 0.1), (36.99, 0.0), (37.14, -1.0), (37.15, -1.1), (36.8, -1.4), (37.21, -1.6), (37.02, -2.0),
    (37.43, -2.1), (37.02, -2.4), (35.31, -2.7), (35.73, -2.5), (38.28, -3.1), (37.18, -3.6), (36.63, -3.8), (33.03, -5.9),
    (35.62, -5.2), (37.02, -5.3), (37.14, -5.6), (35.53, -5.6), (35.53, -5.9), (37.37, -6.1), (37.81, -6.1), (35.75, -6.7),
    (35.4, -7.1), (37.15, -7.3), (36.69, -7.2), (36.77, -7.7), (35.76, -7.1), (36.08, -7.6), (35.95, -7.3), (36.86, -8.1),
    (35.67, -8.5), (36.77, -9.0), (36.08, -8.6), (35.85, -8.3), (36.04, -9.1), (36.49, -9.4), (36.86, -9.5), (36.68, -9.8),
    (36.22, -9.9), (35.76, -9.8), (36.59, -10.3), (36.93, -10.6), (38.06, -10.6), (36.42, -10.5), (36.04, -10.8), (36.25, -11.0),
    (35.34, -11.9), (35.56, -12.0), (35.75, -11.7), (36.03, -11.8), (36.27, -11.7), (36.47, -12.1), (36.77, -12.4), (35.53, -12.5),
    (36.11, -12.6), (35.92, -13.1), (36.93, -13.2), (36.16, -13.5), (36.3, -13.3), (36.49, -13.5), (36.58, -13.8), (34.68, -14.1),
    (35.75, -14.0), (36.25, -14.1), (36.58, -14.5), (36.38, -14.8), (36.03, -15.0), (36.25, -15.3), (36.25, -15.6), (36.41, -15.9),
    (36.05, -16.3), (36.25, -16.4), (35.7, -18.6), (36.25, -18.7), (36.74, -18.9), (36.69, -20.7), (37.15, -20.6), (38.17, -20.6),
    (36.63, -21.7), (36.08, -22.0), (36.22, -22.2), (35.89, -22.6), (35.86, -24.5), (36.49, -25.1), (36.16, -26.4), (36.47, -29.1),
    (36.0, 9.6), (36.5, 9.6), (36.9, 9.6), (35.6, 9.3), (36.0, 9.3), (36.55, 9.3), (35.95, 7.6), (36.2, 7.6),
    (36.5, 7.6), (35.9, 7.2), (36.2, 7.2), (36.5, 7.2), (36.75, 7.2), (36.0, 6.8), (36.45, 6.8), (36.6, 6.8),
    (35.9, 6.2), (36.1, 6.2), (36.6, 6.2), (36.8, 6.2), (36.3, 5.9), (36.55, 5.9), (36.85, 5.9), (36.0, 5.6),
    (36.25, 5.6), (36.7, 5.6), (35.9, 5.0), (36.3, 5.0), (36.55, 5.0), (36.1, 4.5), (36.4, 4.5), (36.55, 4.5),
    (36.3, 4.2), (36.65, 4.2), (35.85, 3.9), (36.25, 3.9), (36.6, 3.9), (35.95, 3.5), (36.15, 3.5), (36.5, 3.5),
    (36.85, 3.5), (36.1, 3.1), (36.3, 3.1), (36.55, 3.1), (35.9, 2.8), (36.2, 2.8), (36.75, 2.8), (35.7, 2.5),
    (36.3, 2.5), (36.7, 2.5), (36.0, 2.2), (36.2, 2.2), (36.4, 2.2), (35.95, 1.8), (36.2, 1.8), (36.45, 1.8),
    (36.75, 1.8), (35.9, 1.4), (36.1, 1.4), (36.55, 1.4), (36.75, 1.4), (36.1, 1.1), (36.4, 1.1), (36.65, 1.1),
    (36.2, 0.8), (36.45, 0.8), (36.7, 0.8), (36.25, 0.5), (36.5, 0.5), (36.75, 0.5), (36.1, 0.2), (36.3, 0.2),
    (36.4, 0.2), (36.2, -0.2), (36.4, -0.2), (36.25, -0.6), (35.85, -0.6), (35.75, -1.1), (36.2, -1.1), (36.35, -1.1),
    (36.0, -1.5), (36.2, -1.5), (36.45, -1.5), (36.2, -1.8), (36.4, -1.8), (36.1, -2.0), (36.45, -2.0), (35.9, -2.6),
    (36.15, -2.6), (35.75, -3.0), (36.0, -3.0), (36.45, -3.0), (35.85, -3.3), (36.25, -3.3), (35.95, -3.9), (36.15, -3.9),
    (36.6, -3.9), (35.9, -4.3), (36.2, -4.3), (35.85, -4.6), (36.1, -5.1), (36.4, -5.1), (36.2, -5.5), (36.35, -5.5),
    (35.85, -6.0), (36.05, -6.0), (36.4, -6.0), (36.3, -6.2), (36.6, -6.2), (36.05, -7.5), (36.4, -7.5), (36.5, -8.1),
    (36.65, -8.1), (36.1, -8.6), (36.1, -9.5), (36.55, -9.5), (36.7, -9.5),
]

# Solid blue part of the month 36 column
tolvaptan_36_core = [
    (36.15, 6.0), (36.35, 6.4), (36.2, 4.8), (36.45, 4.7), (36.0, 4.2), (36.2, 4.0), (36.4, 3.7), (36.0, 3.0),
    (36.15, 2.6), (36.35, 2.4), (36.5, 2.6), (36.1, 2.0), (36.3, 1.9), (36.55, 2.0), (36.0, 1.6), (36.25, 1.5),
    (36.45, 1.3), (36.05, 0.9), (36.3, 1.0), (36.55, 0.9), (36.0, 0.4), (36.15, 0.6), (36.55, 0.3), (36.05, -0.4),
    (36.3, -0.5), (36.5, -0.3), (36.1, -0.9), (36.3, -0.9), (36.5, -0.8), (36.15, -1.3), (36.35, -1.4), (36.05, -1.9),
    (36.3, -2.1), (36.5, -2.3), (36.1, -2.8), (36.3, -2.7), (36.15, -3.2), (36.4, -3.4), (36.05, -4.0), (36.3, -4.1),
    (36.0, -4.8), (36.25, -5.0), (36.55, -5.4), (36.1, -5.9), (36.3, -6.0), (35.95, -6.5), (36.15, -6.6), (36.45, -6.6),
    (36.2, -7.3), (36.55, -7.6), (36.25, -8.4), (36.45, -8.7), (36.3, -9.3), (36.45, -10.1), (36.6, -9.9),
]

# Brown clump in the month 36 column
placebo_36_core = [
    (36.2, 24.4), (36.3, 23.9), (36.4, 24.4), (36.15, 23.0), (36.32, 22.6), (36.45, 22.9), (36.1, 20.2), (36.22, 19.4),
    (36.32, 19.2), (36.45, 19.6), (36.05, 18.9), (36.22, 18.2), (36.47, 17.8), (36.2, 16.8), (36.32, 16.2), (36.5, 15.7),
    (36.2, 13.4), (36.4, 13.2), (36.12, 11.7), (36.32, 12.0), (36.5, 9.3), (36.25, 8.2), (36.12, 8.6), (36.55, 5.2),
    (36.22, 4.6), (36.3, 4.8), (36.28, 0.5), (36.3, -0.3), (36.24, 0.9),
]

brown = "#943634"
blue = "#0000FF"

sns.set_theme(style="white")
plt.rcParams["font.family"] = ["Liberation Sans", "DejaVu Sans"]
plt.rcParams["font.weight"] = "bold"
plt.rcParams["axes.unicode_minus"] = False

placebo_df = pd.DataFrame(placebo_12 + placebo_12_core + placebo_24 + placebo_24_core + placebo_36 + placebo_36_core, columns=["month", "change"])
tolvaptan_df = pd.DataFrame(tolvaptan_12 + tolvaptan_12_core + tolvaptan_24 + tolvaptan_24_core + tolvaptan_36 + tolvaptan_36_core, columns=["month", "change"])

fig = plt.figure(figsize=(17.88, 10.29), dpi=100)
ax = fig.add_axes([251 / 1788, 141 / 1029, 1537 / 1788, 864 / 1029])

# Individual measurements: blue dashes under brown ticks
sns.scatterplot(data=tolvaptan_df, x="month", y="change", marker="_", s=52, color=blue, linewidth=1.5, ax=ax, zorder=2, legend=False)
sns.scatterplot(data=placebo_df, x="month", y="change", marker="|", s=52, color=brown, linewidth=1.5, ax=ax, zorder=3, legend=False)

# Slopes
blue_line, = ax.plot(line_months, tolvaptan_line, color=blue, lw=5.8, solid_capstyle="round", zorder=4)
brown_line, = ax.plot(line_months, placebo_line, color=brown, lw=5.8, solid_capstyle="round", zorder=5)

ax.set_xlim(0, 42.2)
ax.set_ylim(-30, 50)
ax.set_xticks(x_ticks)
ax.set_xticklabels(x_labels)
ax.set_yticks(y_ticks)
ax.set_xlabel("")
ax.set_ylabel("")
ax.tick_params(axis="x", length=10, width=4.8, color="black", labelsize=30.5, pad=19, bottom=True, labelcolor="black")
ax.tick_params(axis="y", length=10, width=4.8, color="black", labelsize=30, pad=16, left=True, labelcolor="black")

sns.despine(ax=ax)
for side in ["left", "bottom"]:
    ax.spines[side].set_linewidth(4.8)
    ax.spines[side].set_color("black")
    ax.spines[side].set_capstyle("round")

for t in ax.get_xticklabels() + ax.get_yticklabels():
    t.set_fontweight("bold")

# Axis titles sit apart from each other, so placed by hand
fig.text(41 / 1788, 1 - 456 / 1029, "Percent Change from Baseline", rotation=90, ha="center", va="center", fontsize=34.7, color="black")
fig.text(96 / 1788, 1 - 514 / 1029, "Total Kidney Volume", rotation=90, ha="center", va="center", fontsize=35, color="black")
fig.text(1116 / 1788, 1 - 1012 / 1029, "Month", ha="center", va="center", fontsize=34.5, color="black")

leg = ax.legend([brown_line, blue_line], ["Placebo", "Tolvaptan"], loc="upper left", bbox_to_anchor=(46 / 1537, 1 - 19 / 864),
                frameon=False, fontsize=27, handlelength=1.48, handletextpad=0.56, labelspacing=0.13, borderpad=0, borderaxespad=0)
for t in leg.get_texts():
    t.set_color("black")

fig.text(565 / 1788, 1 - 61 / 1029, "N=458", ha="left", va="center", fontsize=26.7, color="black")
fig.text(565 / 1788, 1 - 107 / 1029, "N=819", ha="left", va="center", fontsize=26.7, color="black")

fig.text(271 / 1788, 1 - 749 / 1029, "Placebo", ha="left", va="center", fontsize=30.5, color="black")
fig.text(482 / 1788, 1 - 749 / 1029, "5.5%/yr", ha="left", va="center", fontsize=30.5, color="black")
fig.text(271 / 1788, 1 - 799 / 1029, "Tolvaptan 2.8%/yr", ha="left", va="center", fontsize=30.5, color="black")
fig.text(271 / 1788, 1 - 851 / 1029, "p<0.0001", ha="left", va="center", fontsize=30.5, color="black")

fig.text(-4 / 1788, 1 - 1023 / 1029, "VE Torres et al. NEJM 2012", ha="left", va="top", fontsize=22, fontweight="normal", color="black")

fig.savefig("out.png", dpi=100)
